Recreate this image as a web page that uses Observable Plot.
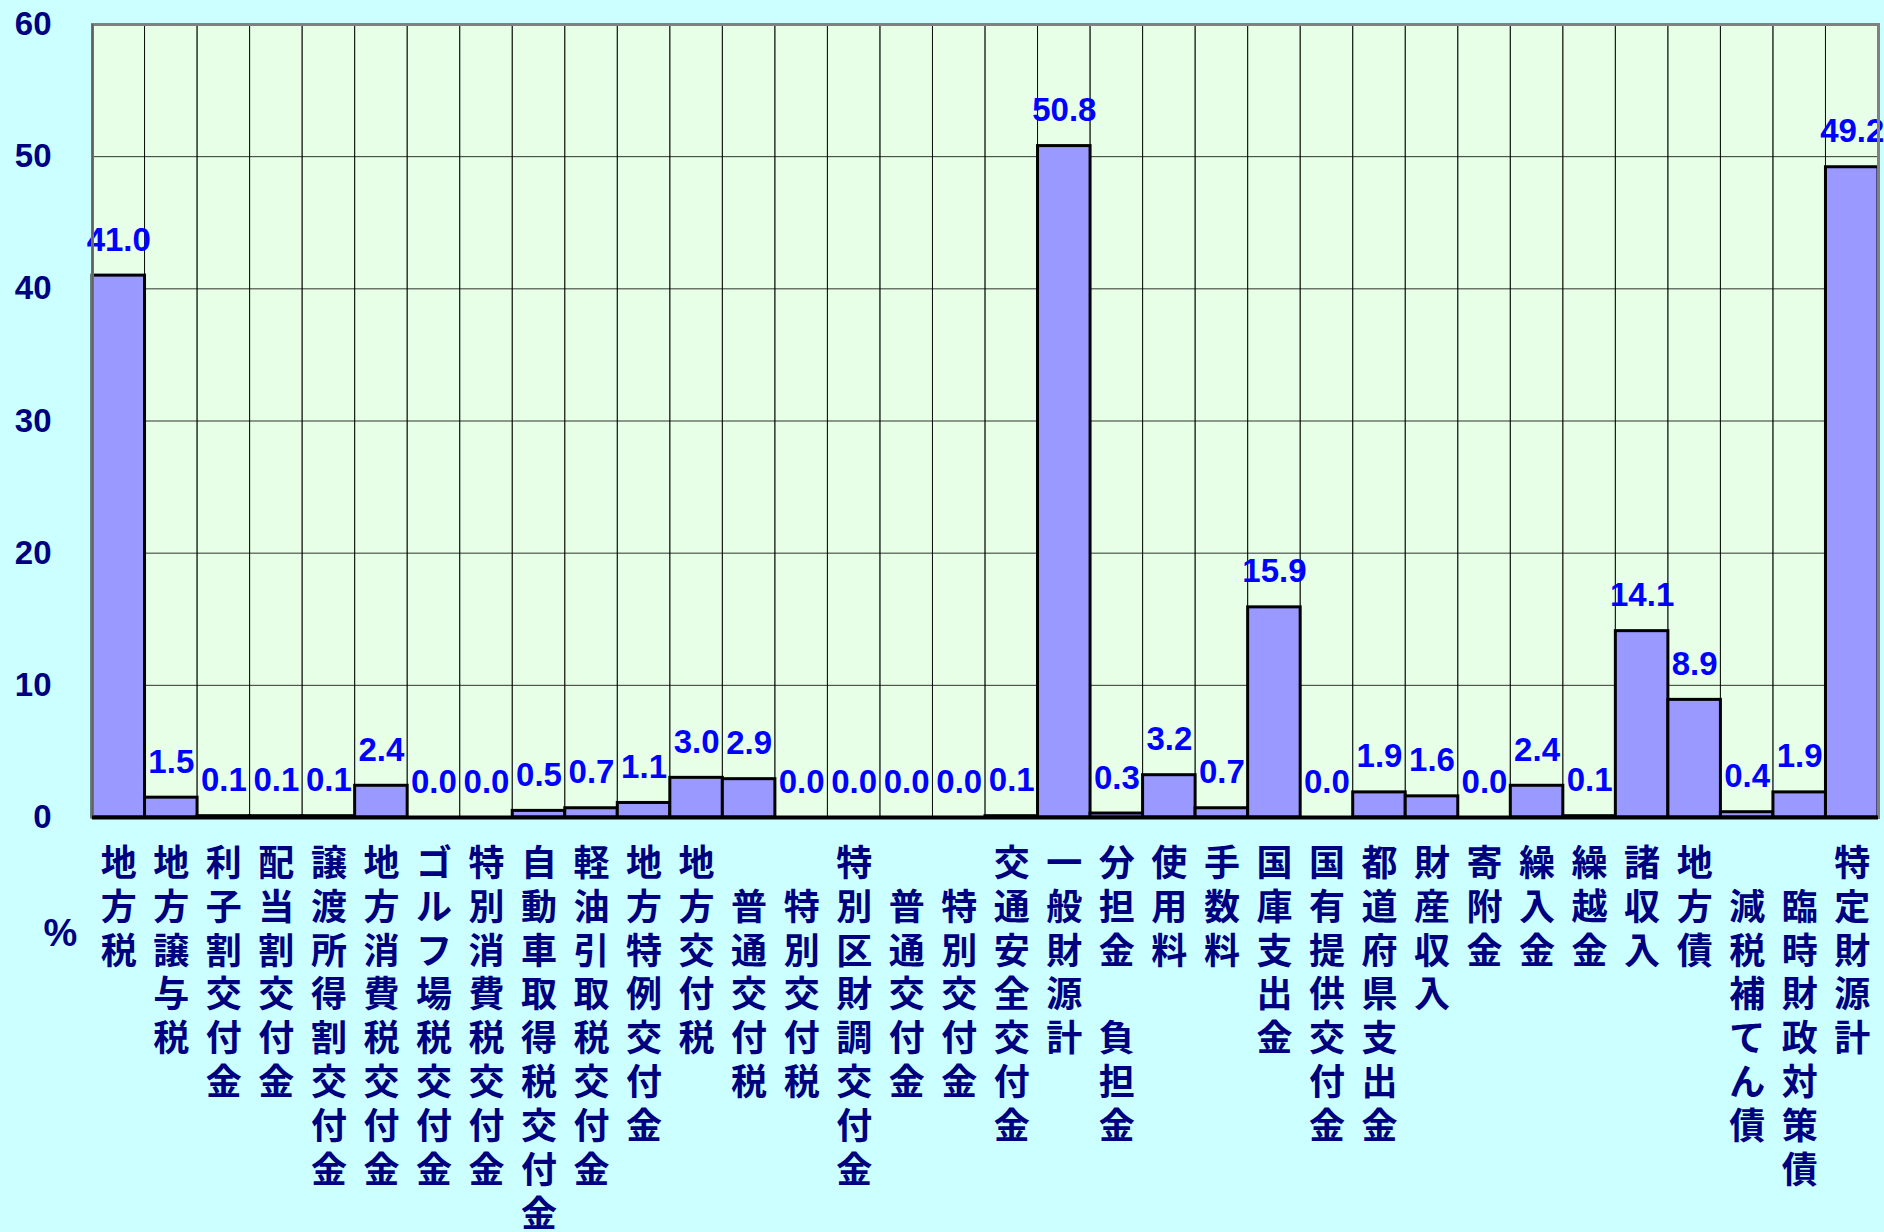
<!DOCTYPE html>
<html>
<head>
<meta charset="utf-8">
<script src="https://cdn.jsdelivr.net/npm/d3@7"></script>
<script src="https://cdn.jsdelivr.net/npm/@observablehq/plot@0.6"></script>
<style>
  html, body { margin: 0; padding: 0; background: #CCFFFF; }
  #chart svg { display: block; }
</style>
</head>
<body>
<div id="chart"></div>
<script>
// Categories (a leading full-width space indents a label by one row)
const categories = [
  "地方税", "地方譲与税", "利子割交付金", "配当割交付金", "譲渡所得割交付金",
  "地方消費税交付金", "ゴルフ場税交付金", "特別消費税交付金", "自動車取得税交付金",
  "軽油引取税交付金", "地方特例交付金", "地方交付税", "　普通交付税", "　特別交付税",
  "特別区財調交付金", "　普通交付金", "　特別交付金", "交通安全交付金", "一般財源計",
  "分担金　負担金", "使用料", "手数料", "国庫支出金", "国有提供交付金", "都道府県支出金",
  "財産収入", "寄附金", "繰入金", "繰越金", "諸収入", "地方債", "　減税補てん債",
  "　臨時財政対策債", "特定財源計"
];
// Share of revenue (%)
const values = [
  41.0, 1.5, 0.1, 0.1, 0.1,
  2.4, 0.0, 0.0, 0.5,
  0.7, 1.1, 3.0, 2.9, 0.0,
  0.0, 0.0, 0.0, 0.1, 50.8,
  0.3, 3.2, 0.7, 15.9, 0.0, 1.9,
  1.6, 0.0, 2.4, 0.1, 14.1, 8.9, 0.4,
  1.9, 49.2
];
const yTicks = [0, 10, 20, 30, 40, 50, 60];
const unitLabel = ["%"];

const data = categories.map((c, i) => ({cat: c, value: values[i]}));

const navy = "#000080";
const numFont = "'Liberation Sans', Arial, sans-serif";
const cjkFont = "'Noto Sans CJK JP', sans-serif";

const chart = Plot.plot({
  width: 1884,
  height: 1232,
  marginLeft: 92,
  marginRight: 6,
  marginTop: 24,
  marginBottom: 415,
  style: {background: "#CCFFFF", overflow: "visible"},
  x: {type: "band", domain: categories, padding: 0, round: false, axis: null},
  y: {domain: [0, 60], axis: null},
  marks: [
    Plot.frame({fill: "#E6FFE6"}),
    Plot.gridY(yTicks, {stroke: "#000", strokeOpacity: 0.8, strokeWidth: 1}),
    Plot.rect(categories, {x: d => d, y1: 0, y2: 60, fill: "none", stroke: "#000", strokeOpacity: 0.75, strokeWidth: 1}),
    Plot.barY(data, {x: "cat", y: "value", fill: "#9999FF", stroke: "#000", strokeWidth: 3}),
    Plot.text(data, {
      x: "cat", y: "value", text: d => d.value.toFixed(1),
      lineAnchor: "bottom", dy: -25, fill: "#0000FF",
      fontSize: 33, fontWeight: "bold", fontFamily: numFont
    }),
    Plot.frame({stroke: "#808080", strokeWidth: 3}),
    Plot.ruleX([0], {x: () => categories[0], dx: -26.26, y1: 0, y2: 60, stroke: "#606060", strokeWidth: 2}),
    Plot.ruleY([0], {stroke: "#000", strokeWidth: 4}),
    Plot.axisY(yTicks, {
      tickSize: 0, tickPadding: 41, fontSize: 33, fontWeight: "bold",
      fontFamily: numFont, fill: navy, label: null
    }),
    Plot.text(data, {
      x: "cat", y: 0,
      text: d => Array.from(d.cat).join("\n"),
      lineAnchor: "top", lineHeight: 1.22, dy: 27,
      fill: navy, fontSize: 36, fontWeight: "bold", fontFamily: cjkFont
    }),
    Plot.text(unitLabel, {
      frameAnchor: "bottom-left", text: d => d, dx: -49, dy: 116,
      lineAnchor: "middle", fill: navy, fontSize: 38, fontWeight: "bold",
      fontFamily: "'Liberation Sans Narrow', 'Liberation Sans', sans-serif"
    })
  ]
});
document.getElementById("chart").appendChild(chart);
</script>
</body>
</html>
